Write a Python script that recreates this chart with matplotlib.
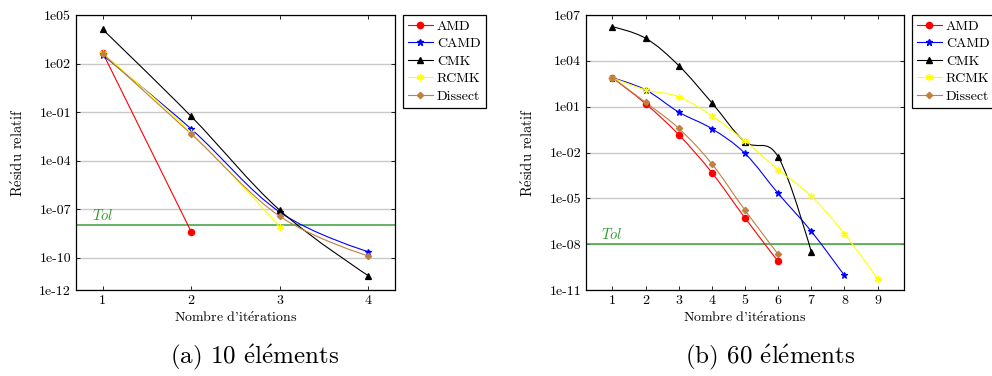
""" Residual convergence of the orderings for two mesh sizes.
"""

import numpy as np
import matplotlib
matplotlib.use('Agg')
import matplotlib.pyplot as plt
from matplotlib.path import Path
from matplotlib.patches import PathPatch
from matplotlib.lines import Line2D

plt.rcParams['font.family'] = ['cmr10', 'DejaVu Serif']
plt.rcParams['mathtext.fontset'] = 'cm'
plt.rcParams['axes.unicode_minus'] = False

SERIES = ['AMD', 'CAMD', 'CMK', 'RCMK', 'Dissect']
COLORS = ['#ff0000', '#0000ff', '#000000', '#ffff00', '#bf8040']
MARKERS = ['o', '*', '^', (6, 2, 0), 'D']
MSIZES = [4.5, 4.5, 4.5, 5, 3.2]

TOL = 1e-8

# cmr10 has no accented letters: build é with mathtext
E_ACUTE = r'$\acute{\mathrm{e}}$'

# (a) 10 elements
amd_a = [480, 4e-9]
camd_a = [340, 9e-3, 6.5e-8, 2.3e-10]
cmk_a = [1.3e4, 0.054, 8.5e-8, 7.6e-12]
rcmk_a = [440, 5.5e-3, 8e-9]
dissect_a = [400, 4.4e-3, 3.6e-8, 1.25e-10]

# (b) 60 elements
amd_b = [775, 15.5, 0.146, 4.8e-4, 5.2e-7, 7.4e-10]
camd_b = [775, 126, 4.4, 0.36, 8.7e-3, 2.1e-5, 7e-8, 9e-11]
cmk_b = [1.7e6, 3e5, 4.9e3, 17.9, 0.051, 5.3e-3, 3.2e-9]
rcmk_b = [775, 126, 44, 2.5, 0.056, 7.5e-4, 1.4e-5, 4.8e-8, 5.5e-11]
dissect_b = [775, 19, 0.38, 1.8e-3, 1.66e-6, 2.2e-9]


def smooth_path(xs, ys, tension=0.18):
    """ Bezier path through the points, like pgfplots 'smooth' (in log-y space). """
    pts = np.column_stack([np.asarray(xs, float), np.log10(ys)])
    n = len(pts)
    if n < 3:
        verts = [tuple(p) for p in pts]
        codes = [Path.MOVETO] + [Path.LINETO] * (n - 1)
    else:
        tang = np.zeros_like(pts)
        for i in range(1, n - 1):
            tang[i] = tension * (pts[i + 1] - pts[i - 1])
        verts = [tuple(pts[0])]
        codes = [Path.MOVETO]
        for i in range(n - 1):
            verts += [tuple(pts[i] + tang[i]), tuple(pts[i + 1] - tang[i + 1]),
                      tuple(pts[i + 1])]
            codes += [Path.CURVE4] * 3
    verts = np.array(verts)
    verts[:, 1] = 10 ** verts[:, 1]
    return Path(verts, codes)


def draw_panel(ax, data, ylim, yticks, xlim, xmax, tol_x):
    for (vals, color, marker, ms) in zip(data, COLORS, MARKERS, MSIZES):
        xs = np.arange(1, len(vals) + 1)
        ax.add_patch(PathPatch(smooth_path(xs, vals), fill=False,
                               edgecolor=color, lw=0.8, zorder=3))
        ax.plot(xs, vals, linestyle='none', marker=marker, color=color,
                markersize=ms, markeredgewidth=0.9, zorder=4)
    ax.axhline(TOL, color='#4da64d', lw=1.2, zorder=2)
    ax.text(tol_x, TOL * 1.35, r'$Tol$', color='#2e9a2e', fontsize=10.5,
            ha='left', va='bottom')
    ax.set_yscale('log')
    ax.set_ylim(*ylim)
    ax.set_xlim(*xlim)
    ax.set_yticks([10.0 ** e for e in yticks])
    ax.set_yticklabels(['1e%03d' % e if e < 0 else '1e%02d' % e for e in yticks])
    ax.yaxis.set_minor_locator(matplotlib.ticker.NullLocator())
    ax.set_xticks(range(1, xmax + 1))
    ax.grid(axis='y', color='#c8c8c8', lw=1.0, zorder=1)
    ax.tick_params(direction='in', top=True, right=True, labelsize=10,
                   length=3, width=0.6)
    for spine in ax.spines.values():
        spine.set_linewidth(0.9)
    ax.set_xlabel("Nombre d'it" + E_ACUTE + 'rations', fontsize=10, labelpad=3)
    ax.set_ylabel('R' + E_ACUTE + 'sidu relatif', fontsize=10.5, labelpad=10)
    handles = [Line2D([], [], color=c, marker=m, markersize=s, lw=0.8)
               for c, m, s in zip(COLORS, MARKERS, MSIZES)]
    leg = ax.legend(handles, SERIES, loc='upper left', bbox_to_anchor=(1.025, 1.0),
                    fontsize=10, fancybox=False, framealpha=1, edgecolor='black',
                    handlelength=1.8, handletextpad=0.3, borderpad=0.35,
                    labelspacing=0.35, borderaxespad=0)
    leg.get_frame().set_linewidth(0.9)


fig = plt.figure(figsize=(9.92, 3.76), dpi=100)
ax_a = fig.add_axes([0.0766, 0.2287, 0.3216, 0.7314])
ax_b = fig.add_axes([0.5907, 0.2287, 0.3206, 0.7314])

draw_panel(ax_a, [amd_a, camd_a, cmk_a, rcmk_a, dissect_a],
           (1e-12, 1e5), [5, 2, -1, -4, -7, -10, -12], (0.7, 4.3), 4, 0.885)
draw_panel(ax_b, [amd_b, camd_b, cmk_b, rcmk_b, dissect_b],
           (1e-11, 1e7), [7, 4, 1, -2, -5, -8, -11], (0.2, 9.8), 9, 0.66)

caption = E_ACUTE + 'l' + E_ACUTE + 'ments'
fig.text(0.257, 0.048, '(a) 10 ' + caption, ha='center', va='center', fontsize=18)
fig.text(0.776, 0.048, '(b) 60 ' + caption, ha='center', va='center', fontsize=18)

fig.savefig('out.png', dpi=100)
